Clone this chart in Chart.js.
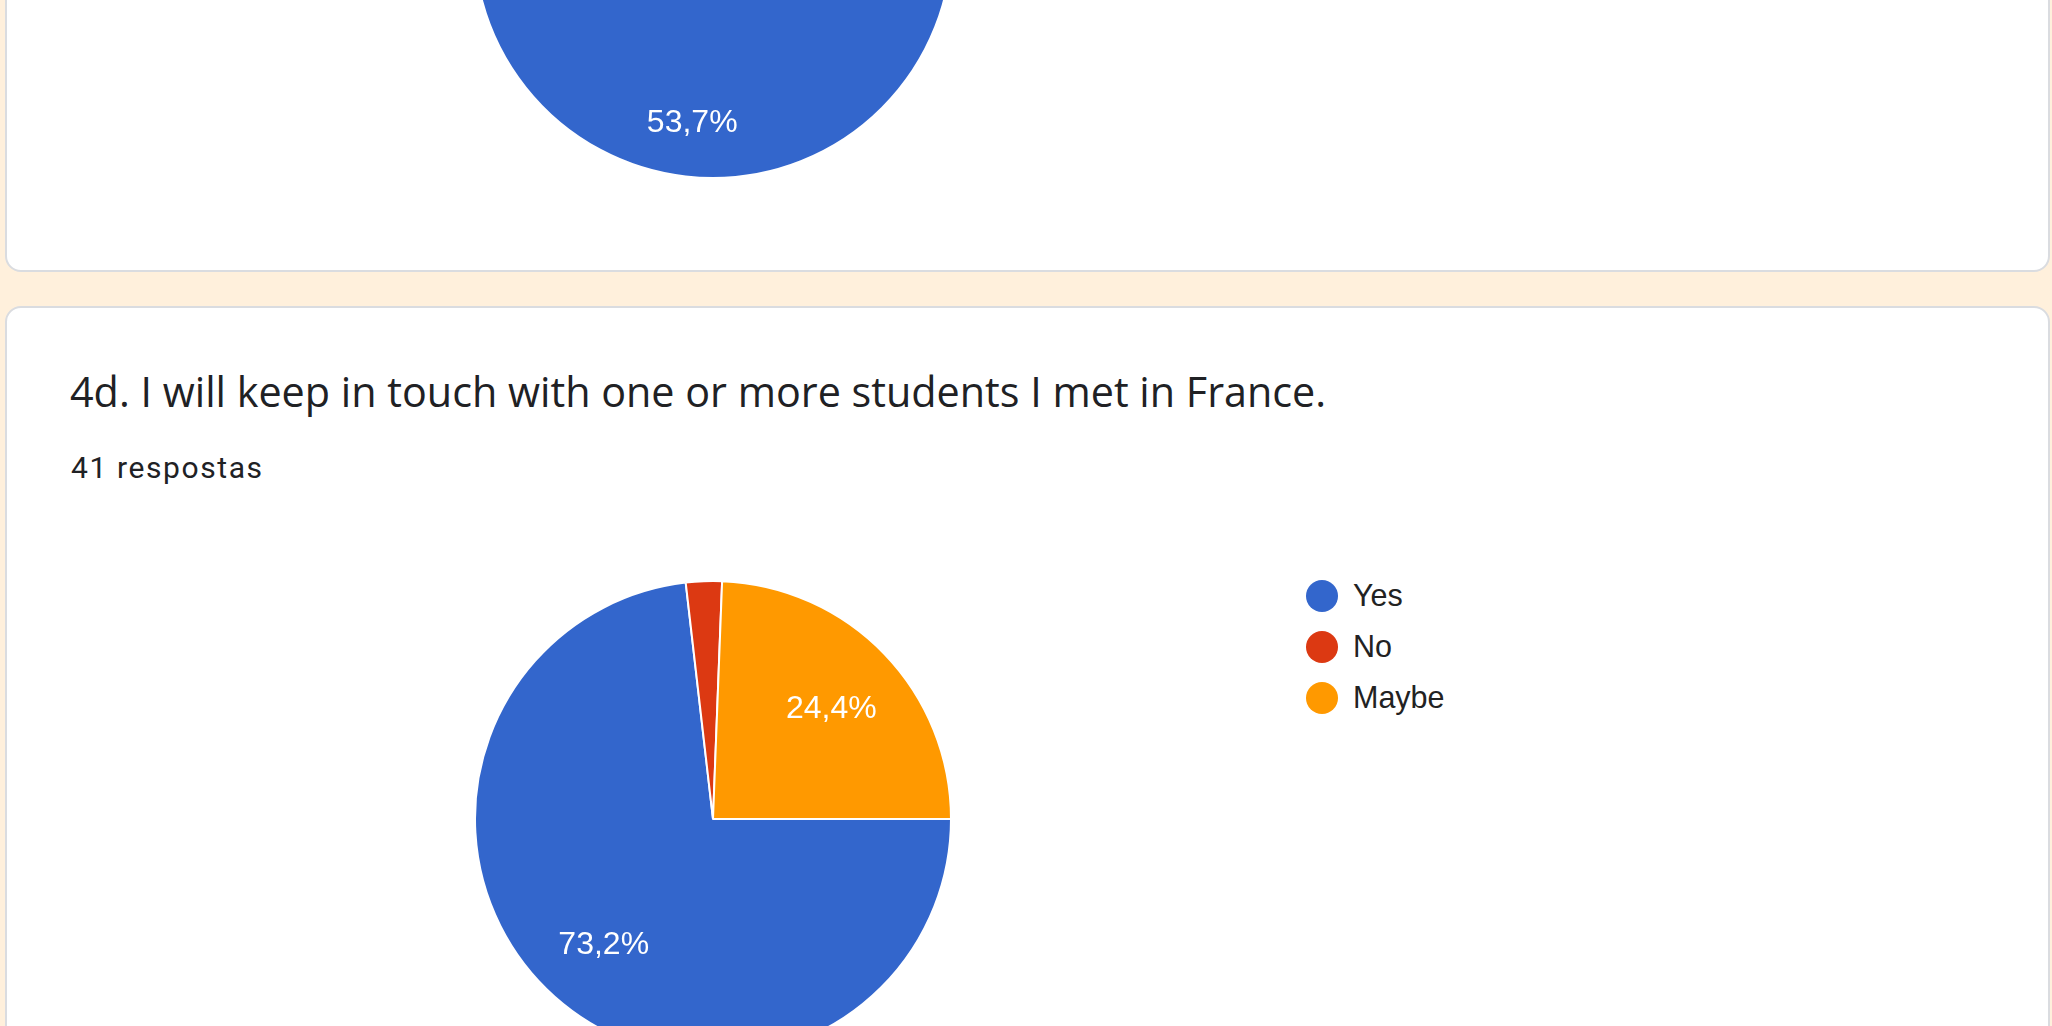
<!DOCTYPE html>
<html>
<head>
<meta charset="utf-8">
<title>4d. Keep in touch</title>
<script src="https://cdn.jsdelivr.net/npm/chart.js@4.4.1/dist/chart.umd.min.js"></script>
<style>
html, body {
    margin: 0;
    padding: 0;
    width: 2052px;
    height: 1026px;
    overflow: hidden;
    background: #fff0dc;
}
.card {
    position: absolute;
    left: 5px;
    width: 2045px;
    box-sizing: border-box;
    background: #fff;
    border: 2px solid #dadce0;
    border-radius: 16px;
}
#card-prev { top: -400px; height: 672px; }
#card-touch { top: 306px; height: 900px; }
.question {
    position: absolute;
    left: 70px;
    top: 371px;
    font: 41.3px/41px "Open Sans", sans-serif;
    color: #202124;
    white-space: nowrap;
}
.count {
    position: absolute;
    left: 71px;
    top: 453px;
    font: 30px/30px Roboto, sans-serif;
    letter-spacing: 1.6px;
    color: #202124;
    white-space: nowrap;
}
canvas { position: absolute; }
#prev-chart { left: 473px; top: -301px; }
#touch-chart { left: 474px; top: 580px; }
.legend {
    position: absolute;
    left: 1306px;
    top: 570px;
    font: 30.5px "Liberation Sans", Arial, sans-serif;
    color: #222;
}
.legend div { height: 51px; display: flex; align-items: center; white-space: nowrap; }
.legend span { display: inline-block; width: 32px; height: 32px; border-radius: 50%; margin-right: 15px; }
</style>
</head>
<body>
<div class="card" id="card-prev"></div>
<div class="card" id="card-touch"></div>
<canvas id="prev-chart" width="480" height="480"></canvas>

<div class="question">4d. I will keep in touch with one or more students I met in France.</div>
<div class="count">41 respostas</div>
<canvas id="touch-chart" width="478" height="478"></canvas>
<div class="legend" id="touch-legend"></div>

<script>
var answers = ["Yes", "No", "Maybe"];
// previous question (only its lower half shows at the top of the screen)
var prevCounts = [22, 5, 14];
// 4d: 41 answers
var touchCounts = [30, 1, 10];

// google forms style % label inside each slice
var sliceLabels = {
    id: 'sliceLabels',
    afterDatasetsDraw: function(chart, args, opts) {
        var ctx = chart.ctx;
        var data = chart.data.datasets[0].data;
        var total = data.reduce(function(a, b) { return a + b; }, 0);
        chart.getDatasetMeta(0).data.forEach(function(arc, i) {
            var pct = data[i] / total * 100;
            if (pct < opts.min) return;
            var p = arc.getProps(['x', 'y', 'startAngle', 'endAngle', 'outerRadius'], true);
            var mid = (p.startAngle + p.endAngle) / 2;
            var r = p.outerRadius * opts.at;
            ctx.save();
            ctx.fillStyle = '#fff';
            ctx.font = '32px "Liberation Sans", Arial, sans-serif';
            ctx.textAlign = 'center';
            ctx.textBaseline = 'middle';
            ctx.fillText(pct.toFixed(1).replace('.', ',') + '%', p.x + Math.cos(mid) * r, p.y + Math.sin(mid) * r + 4);
            ctx.restore();
        });
    }
};

function pieConfig(counts, labelAt) {
    return {
        type: 'pie',
        data: {
            labels: answers,
            datasets: [{
                data: counts,
                backgroundColor: ['#3366cc', '#dc3912', '#ff9900'],
                borderColor: '#fff',
                borderWidth: 2
            }]
        },
        options: {
            responsive: false,
            animation: false,
            rotation: 90,
            plugins: {
                legend: { display: false },
                tooltip: { enabled: false },
                sliceLabels: { min: 5, at: labelAt }
            }
        },
        plugins: [sliceLabels]
    };
}

window.onload = function() {
    var prevCtx = document.getElementById("prev-chart").getContext("2d");
    window.prevPie = new Chart(prevCtx, pieConfig(prevCounts, 0.758));
    var touchCtx = document.getElementById("touch-chart").getContext("2d");
    window.touchPie = new Chart(touchCtx, pieConfig(touchCounts, 0.69));

    // legend built from the chart's own labels/colours
    var items = touchPie.options.plugins.legend.labels.generateLabels(touchPie);
    var box = document.getElementById("touch-legend");
    items.forEach(function(item) {
        var row = document.createElement('div');
        var dot = document.createElement('span');
        dot.style.background = item.fillStyle;
        row.appendChild(dot);
        row.appendChild(document.createTextNode(item.text));
        box.appendChild(row);
    });
};
</script>
</body>
</html>
